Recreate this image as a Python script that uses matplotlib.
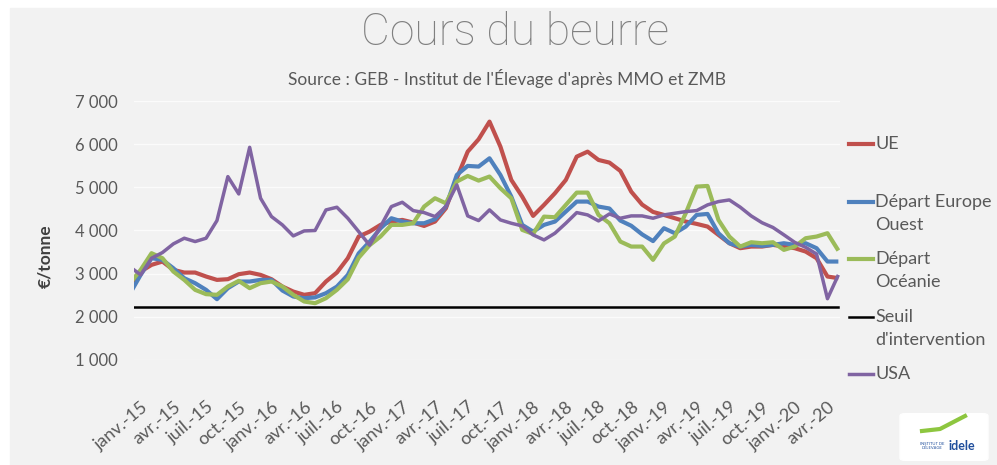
import matplotlib.pyplot as plt
from matplotlib.lines import Line2D
from matplotlib.patches import Rectangle, FancyBboxPatch

plt.rcParams['font.family'] = ['Lato', 'DejaVu Sans']

# mois: -1 = déc.-14, 0 = janv.-15 ... 64 = mai-20
mois = list(range(-1, 65))

ue = [2720, 3049, 3204, 3281, 3088, 3026, 3026, 2934, 2856, 2872, 2988, 3026, 2972,
      2872, 2702, 2586, 2510, 2548, 2818, 3026, 3358, 3860, 3975, 4130, 4207, 4245,
      4184, 4106, 4207, 4515, 5210, 5827, 6113, 6522, 5943, 5171, 4785, 4338, 4593,
      4863, 5171, 5711, 5827, 5634, 5573, 5380, 4900, 4600, 4430, 4361, 4284, 4207,
      4153, 4091, 3898, 3705, 3590, 3628, 3628, 3667, 3628, 3590, 3512, 3358, 2934, 2895]

europe_ouest = [2530, 2972, 3358, 3320, 3126, 2895, 2779, 2625, 2409, 2664, 2818, 2818,
                2856, 2856, 2610, 2471, 2432, 2450, 2548, 2700, 2970, 3470, 3740, 4050,
                4284, 4207, 4168, 4168, 4261, 4554, 5287, 5496, 5481, 5673, 5287, 4785,
                4130, 3975, 4130, 4207, 4438, 4670, 4670, 4554, 4510, 4230, 4110, 3910,
                3755, 4053, 3937, 4091, 4361, 4384, 3937, 3705, 3628, 3667, 3644, 3667,
                3705, 3667, 3705, 3590, 3281, 3281]

oceanie = [2772, 3088, 3474, 3358, 3049, 2856, 2625, 2525, 2510, 2702, 2833, 2664, 2779,
           2818, 2702, 2510, 2355, 2316, 2432, 2625, 2870, 3370, 3660, 3860, 4130, 4130,
           4168, 4554, 4747, 4631, 5133, 5264, 5156, 5250, 4978, 4747, 4014, 3921, 4322,
           4307, 4593, 4878, 4878, 4361, 4168, 3744, 3628, 3628, 3320, 3700, 3860, 4400,
           5017, 5032, 4245, 3860, 3628, 3728, 3705, 3728, 3551, 3628, 3821, 3860, 3937, 3536]

usa = [3162, 2972, 3358, 3489, 3690, 3821, 3744, 3821, 4230, 5248, 4847, 5927, 4747,
       4323, 4130, 3875, 3990, 4000, 4477, 4539, 4284, 3975, 3660, 4091, 4554, 4654,
       4461, 4415, 4323, 4554, 5056, 4338, 4230, 4477, 4245, 4168, 4106, 3898, 3782,
       3937, 4168, 4415, 4361, 4222, 4384, 4284, 4338, 4338, 4284, 4361, 4400, 4438,
       4461, 4593, 4670, 4708, 4540, 4338, 4180, 4070, 3900, 3725, 3610, 3455, 2420, 2972]

seuil = [2217.5] * len(mois)

tick_pos = list(range(0, 64, 3))
tick_labels = [f'{m}-{a}' for a in range(15, 21)
               for m in ['janv.', 'avr.', 'juil.', 'oct.']][:len(tick_pos)]
y_ticks = [1000, 2000, 3000, 4000, 5000, 6000, 7000]
y_labels = ['1 000', '2 000', '3 000', '4 000', '5 000', '6 000', '7 000']

c_ue = '#c0504d'
c_eu = '#4f81bd'
c_oc = '#9bbb59'
c_us = '#8064a2'
gris = '#595959'

W, H = 997, 465
fig = plt.figure(figsize=(W / 100, H / 100), dpi=100, facecolor='white')
fig.patches.append(Rectangle((10 / W, 0), 1, 1 - 8 / H, transform=fig.transFigure,
                             color='#f2f2f2', zorder=-5))

ax = fig.add_axes([134 / W, 1 - 360 / H, 706 / W, 259 / H])
ax.set_facecolor('none')

ax.plot(mois, ue, color=c_ue, lw=3, solid_joinstyle='round', solid_capstyle='butt')
ax.plot(mois, europe_ouest, color=c_eu, lw=3, solid_joinstyle='round', solid_capstyle='butt')
ax.plot(mois, oceanie, color=c_oc, lw=3, solid_joinstyle='round', solid_capstyle='butt')
ax.plot(mois, seuil, color='black', lw=1.8)
ax.plot(mois, usa, color=c_us, lw=2.5, solid_joinstyle='round', solid_capstyle='butt')

ax.set_xlim(-0.61, 64.15)
ax.set_ylim(1000, 7000)
ax.set_yticks(y_ticks)
ax.set_yticklabels(y_labels)
ax.set_xticks(tick_pos)
ax.set_xticklabels(tick_labels, rotation=40, ha='right', va='top', rotation_mode='anchor')
ax.tick_params(axis='y', length=0, pad=12, labelsize=12, labelcolor=gris)
ax.tick_params(axis='x', length=0, pad=28, labelsize=13, labelcolor=gris)
ax.grid(axis='y', color='#fbfbfb', lw=1)
ax.set_axisbelow(True)
for s in ax.spines.values():
    s.set_visible(False)

fig.text(515 / W, 1 - 33 / H, 'Cours du beurre', size=32, color='#808080',
         ha='center', va='center', family=['Roboto', 'Lato', 'DejaVu Sans'],
         fontweight='light')
fig.text(507 / W, 1 - 78 / H, "Source : GEB - Institut de l'Élevage d'après MMO et ZMB",
         size=12.5, color=gris, ha='center', va='center')
fig.text(45 / W, 1 - 256 / H, '€/tonne', rotation=90, size=12.5, weight='bold',
         color='#404040', ha='center', va='center')

# légende
legende = [
    (144, ['UE'], c_ue, 3),
    (202, ['Départ Europe', 'Ouest'], c_eu, 3),
    (259, ['Départ', 'Océanie'], c_oc, 3),
    (317, ['Seuil', "d'intervention"], 'black', 1.8),
    (374, ['USA'], c_us, 2.5),
]
for y, lignes, col, lw in legende:
    fig.add_artist(Line2D([849 / W, 873 / W], [1 - y / H] * 2, transform=fig.transFigure,
                          color=col, lw=lw))
    for i, txt in enumerate(lignes):
        fig.text(875 / W, 1 - (y + 23 * i) / H, txt, size=13, color=gris,
                 ha='left', va='center')

# logo idele
fig.patches.append(FancyBboxPatch((905 / W, 1 - 458 / H), 78 / W, 42 / H,
                                  boxstyle='round,pad=0.005', transform=fig.transFigure,
                                  color='white', zorder=1))
fig.add_artist(Line2D([922 / W, 940 / W, 965 / W], [1 - 431 / H, 1 - 429 / H, 1 - 416 / H],
                      transform=fig.transFigure, color='#8dc63f', lw=3))
fig.text(962 / W, 1 - 446 / H, 'idele', size=9, weight='bold', color='#1f4e9c',
         ha='center', va='center')
fig.text(932 / W, 1 - 446 / H, "INSTITUT DE\nL'ÉLEVAGE", size=3, color='#1f4e9c',
         ha='center', va='center')

fig.savefig('out.png', dpi=100, facecolor=fig.get_facecolor())
